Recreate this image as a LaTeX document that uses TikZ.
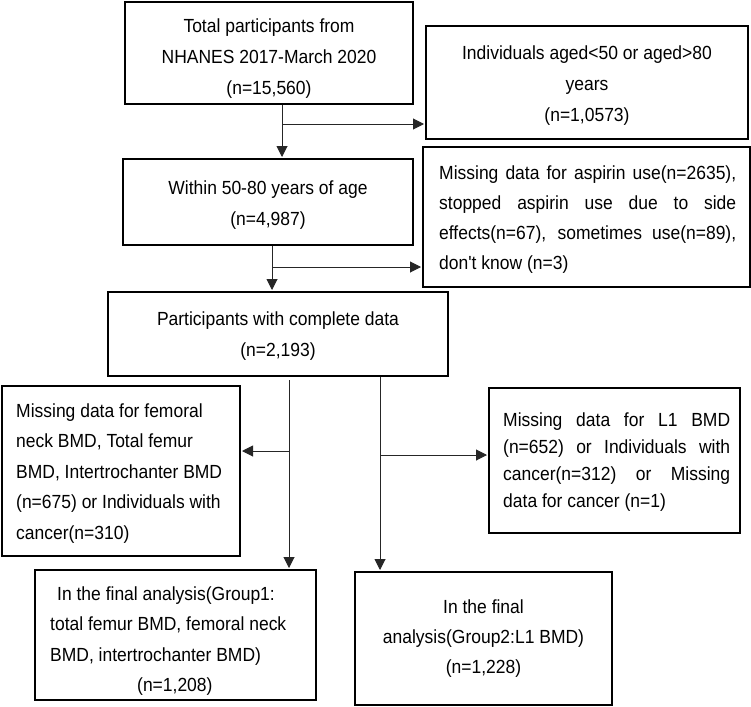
\documentclass[tikz,border=0pt]{standalone}
\usepackage{fontspec}
\setmainfont[FakeStretch=0.92,Ligatures=TeXOff]{Liberation Sans}
\usetikzlibrary{arrows.meta}
\newcommand\boxfont[1]{\fontsize{19}{#1}\selectfont}
\begin{document}
\begin{tikzpicture}[x=1pt,y=-1pt,
  box/.style={draw, line width=2pt, inner sep=0pt},
  txt/.style={inner sep=0pt, align=center},
  ltxt/.style={inner sep=0pt, align=left, anchor=west},
  conn/.style={draw=black!85, line width=1pt},
  arr/.style={conn, -{Triangle[length=11pt,width=11pt]}, shorten >=1pt}]
\useasboundingbox (0,0) rectangle (751,706);

% boxes
\node[box, minimum width=288pt, minimum height=102pt] (b1) at (269,53) {};
\node[box, minimum width=322pt, minimum height=113pt] (b2) at (587,82.5) {};
\node[box, minimum width=290pt, minimum height=86pt]  (b3) at (268,202) {};
\node[box, minimum width=327pt, minimum height=140pt] (b4) at (586.5,217) {};
\node[box, minimum width=340pt, minimum height=84pt]  (b5) at (278,334) {};
\node[box, minimum width=238pt, minimum height=170pt] (b6) at (121,471) {};
\node[box, minimum width=251pt, minimum height=145pt] (b7) at (614.5,460.5) {};
\node[box, minimum width=281pt, minimum height=130pt] (b8) at (175.5,635) {};
\node[box, minimum width=257pt, minimum height=133pt] (b9) at (483.5,638.5) {};

% texts
\node[txt, font=\boxfont{31}] (t1) at (269,58.6)
  {Total participants from\\NHANES 2017-March 2020\\(n=15,560)};
\node[txt, font=\boxfont{31}] (t2) at (587,86)
  {Individuals aged<50 or aged>80\\years\\(n=1,0573)};
\node[txt, font=\boxfont{31}] (t3) at (268,205)
  {Within 50-80 years of age\\(n=4,987)};
\node[ltxt, font=\boxfont{30}] (t4) at (439,219.5)
  {\makebox[297pt][s]{Missing data for aspirin use(n=2635),}\\
   \makebox[297pt][s]{stopped aspirin use due to side}\\
   \makebox[297pt][s]{effects(n=67), sometimes use(n=89),}\\
   don't know (n=3)};
\node[txt, font=\boxfont{31}] (t5) at (278,336)
  {Participants with complete data\\(n=2,193)};
\node[ltxt, font=\boxfont{30.5}] (t6) at (16,473.5)
  {Missing data for femoral\\neck BMD, Total femur\\BMD, Intertrochanter BMD\\(n=675) or Individuals with\\cancer(n=310)};
\node[ltxt, font=\boxfont{27}] (t7) at (503,462.5)
  {\makebox[227pt][s]{Missing data for L1 BMD}\\
   \makebox[227pt][s]{(n=652) or Individuals with}\\
   \makebox[227pt][s]{cancer(n=312) or Missing}\\
   data for cancer (n=1)};
\node[ltxt, font=\boxfont{30.3}] (t8) at (50,641)
  {\hspace*{7pt}In the final analysis(Group1:\\
   total femur BMD, femoral neck\\
   BMD, intertrochanter BMD)\\
   \hspace*{87pt}(n=1,208)};
\node[txt, font=\boxfont{30}] (t9) at (483.5,638.5)
  {In the final\\analysis(Group2:L1 BMD)\\(n=1,228)};

% connectors
\coordinate (j1) at (282,124);
\coordinate (j2) at (272,267);
\coordinate (s1) at (289,380);
\coordinate (j3) at (289,451);
\coordinate (j4) at (380,455);

\draw[arr] (b1.south -| j1) -- (b3.north -| j1);
\draw[arr] (j1) -- (j1 -| b2.west);
\draw[arr] (b3.south -| j2) -- (b5.north -| j2);
\draw[arr] (j2) -- (j2 -| b4.west);
\draw[arr] (s1) -- (b8.north -| s1);
\draw[arr] (j3) -- (j3 -| b6.east);
\draw[arr] (b5.south -| j4) -- (b9.north -| j4);
\draw[arr] (j4) -- (j4 -| b7.west);
\end{tikzpicture}
\end{document}
